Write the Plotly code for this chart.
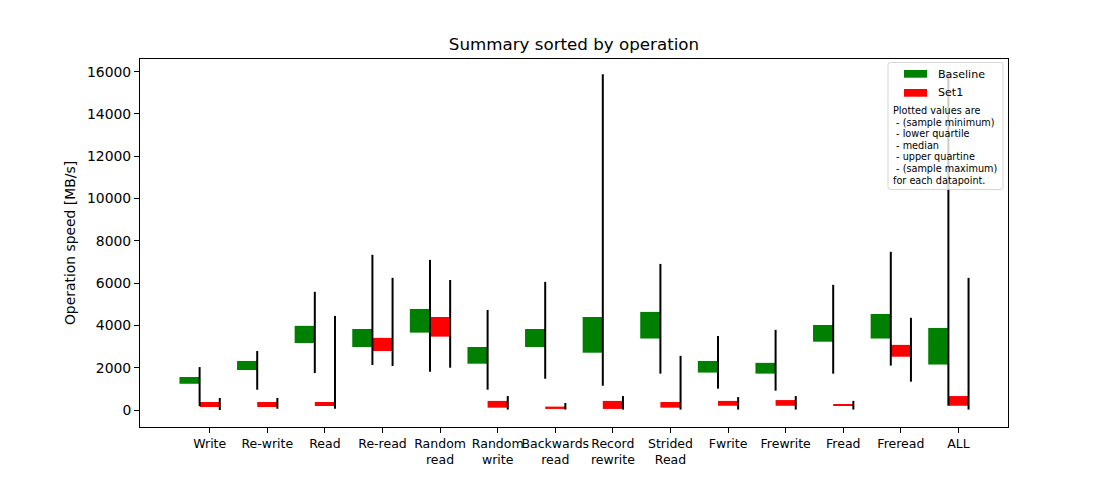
import plotly.graph_objects as go

# ---- data ----
operations = ["Write", "Re-write", "Read", "Re-read", "Random<br>read", "Random<br>write",
              "Backwards<br>read", "Record<br>rewrite", "Strided<br>Read", "Fwrite",
              "Frewrite", "Fread", "Freread", "ALL"]

baseline_min = [190, 960, 1750, 2130, 1810, 960, 1480, 1150, 1720, 1010, 915, 1720, 2100, 200]
baseline_q1 = [1240, 1890, 3170, 2980, 3660, 2190, 2980, 2710, 3380, 1770, 1720, 3230, 3380, 2150]
baseline_q3 = [1560, 2320, 3980, 3830, 4780, 2980, 3830, 4400, 4640, 2320, 2230, 4020, 4540, 3880]
baseline_max = [2030, 2790, 5590, 7340, 7100, 4730, 6060, 15880, 6910, 3500, 3790, 5920, 7480, 15880]

set1_min = [0, 60, 60, 2080, 2000, 20, 20, 20, 20, 20, 20, 20, 1340, 20]
set1_q1 = [140, 140, 190, 2790, 3470, 110, 50, 50, 110, 200, 200, 200, 2520, 200]
set1_q3 = [380, 380, 380, 3410, 4400, 430, 160, 430, 380, 430, 470, 280, 3080, 660]
set1_max = [570, 570, 4450, 6250, 6150, 660, 330, 660, 2560, 610, 660, 430, 4360, 6250]

y_ticks = [0, 2000, 4000, 6000, 8000, 10000, 12000, 14000, 16000]

FONT = "DejaVu Sans"
W = 0.35
xs = list(range(len(operations)))

fig = go.Figure()

fig.add_trace(go.Bar(
    x=xs, y=[h - l for l, h in zip(baseline_q1, baseline_q3)], base=baseline_q1,
    offset=-1.5 * W, width=W, marker=dict(color="#008000", line=dict(width=0)),
    name="Baseline", showlegend=False))
fig.add_trace(go.Bar(
    x=xs, y=[h - l for l, h in zip(set1_q1, set1_q3)], base=set1_q1,
    offset=-W / 2, width=W, marker=dict(color="#ff0000", line=dict(width=0)),
    name="Set1", showlegend=False))


def whiskers(offset, mins, maxs):
    lx, ly = [], []
    for i, (lo, hi) in enumerate(zip(mins, maxs)):
        lx += [i + offset, i + offset, None]
        ly += [lo, hi, None]
    return lx, ly


for off, mn, mx in [(-W / 2, baseline_min, baseline_max), (W / 2, set1_min, set1_max)]:
    lx, ly = whiskers(off, mn, mx)
    fig.add_trace(go.Scatter(x=lx, y=ly, mode="lines", line=dict(color="black", width=2),
                             showlegend=False, hoverinfo="skip"))

# ---- layout geometry (pixels) ----
L, R, T, B = 140, 1008, 59, 427


def fx(p):
    return (p - L) / (R - L)


def fy(p):
    return (B - p) / (B - T)


shapes = []
# legend frame with rounded corners
x0, x1, y0, y1, r = 888, 1003, 62.5, 189.5, 2.5
pts = (f"M {fx(x0 + r)},{fy(y0)} L {fx(x1 - r)},{fy(y0)} Q {fx(x1)},{fy(y0)} {fx(x1)},{fy(y0 + r)} "
       f"L {fx(x1)},{fy(y1 - r)} Q {fx(x1)},{fy(y1)} {fx(x1 - r)},{fy(y1)} "
       f"L {fx(x0 + r)},{fy(y1)} Q {fx(x0)},{fy(y1)} {fx(x0)},{fy(y1 - r)} "
       f"L {fx(x0)},{fy(y0 + r)} Q {fx(x0)},{fy(y0)} {fx(x0 + r)},{fy(y0)} Z")
shapes.append(dict(type="path", xref="paper", yref="paper", path=pts, layer="above",
                   fillcolor="rgba(255,255,255,0.8)", line=dict(color="rgba(204,204,204,0.8)", width=1)))
shapes.append(dict(type="rect", xref="paper", yref="paper", layer="above",
                   x0=fx(904), x1=fx(927), y0=fy(70), y1=fy(77.7),
                   fillcolor="#008000", line=dict(width=0)))
shapes.append(dict(type="rect", xref="paper", yref="paper", layer="above",
                   x0=fx(904), x1=fx(927), y0=fy(89), y1=fy(96.7),
                   fillcolor="#ff0000", line=dict(width=0)))

annotations = []
for txt, yy in [("Baseline", 74), ("Set1", 93)]:
    annotations.append(dict(text=txt, xref="paper", yref="paper", x=fx(935.5), y=fy(yy),
                            xanchor="left", yanchor="middle", showarrow=False,
                            font=dict(family=FONT, size=11.1, color="black")))
note_lines = ["Plotted values are", "\u00a0- (sample minimum)", "\u00a0- lower quartile",
              "\u00a0- median", "\u00a0- upper quartine", "\u00a0- (sample maximum)",
              "for each datapoint."]
for k, line in enumerate(note_lines):
    annotations.append(dict(text=line, xref="paper", yref="paper", x=fx(891), y=fy(110.7 + 11.55 * k),
                            xanchor="left", yanchor="middle", showarrow=False,
                            font=dict(family=FONT, size=9.7, color="black")))

fig.update_layout(
    width=1120, height=480,
    margin=dict(l=L, r=1120 - R, t=T, b=480 - B, autoexpand=False),
    paper_bgcolor="white", plot_bgcolor="white",
    barmode="overlay",
    font=dict(family=FONT, color="black"),
    title=dict(text="Summary sorted by operation", x=0.5, xref="paper", xanchor="center",
               y=1 - 44 / 480, yref="container", yanchor="middle",
               font=dict(family=FONT, size=16.7, color="black")),
    xaxis=dict(range=[-1.21, 13.86], tickmode="array", tickvals=xs, ticktext=operations,
               tickangle=0,
               showgrid=False, zeroline=False, showline=True, linecolor="black", linewidth=1,
               mirror=True, ticks="outside", ticklen=5, tickwidth=1, tickcolor="black",
               tickfont=dict(family=FONT, size=12.5, color="black")),
    yaxis=dict(range=[-804, 16601], tickmode="array", tickvals=y_ticks,
               ticktext=[str(v) for v in y_ticks],
               showgrid=False, zeroline=False, showline=True, linecolor="black", linewidth=1,
               mirror=True, ticks="outside", ticklen=5, tickwidth=1, tickcolor="black",
               tickfont=dict(family=FONT, size=13.9, color="black"),
               title=dict(text="Operation speed [MB/s]", standoff=8,
                          font=dict(family=FONT, size=13.9, color="black"))),
    shapes=shapes, annotations=annotations,
)

fig.write_html("out.html", config={"displayModeBar": False},
               post_script="document.body.style.margin='0';document.body.style.overflow='hidden';")
